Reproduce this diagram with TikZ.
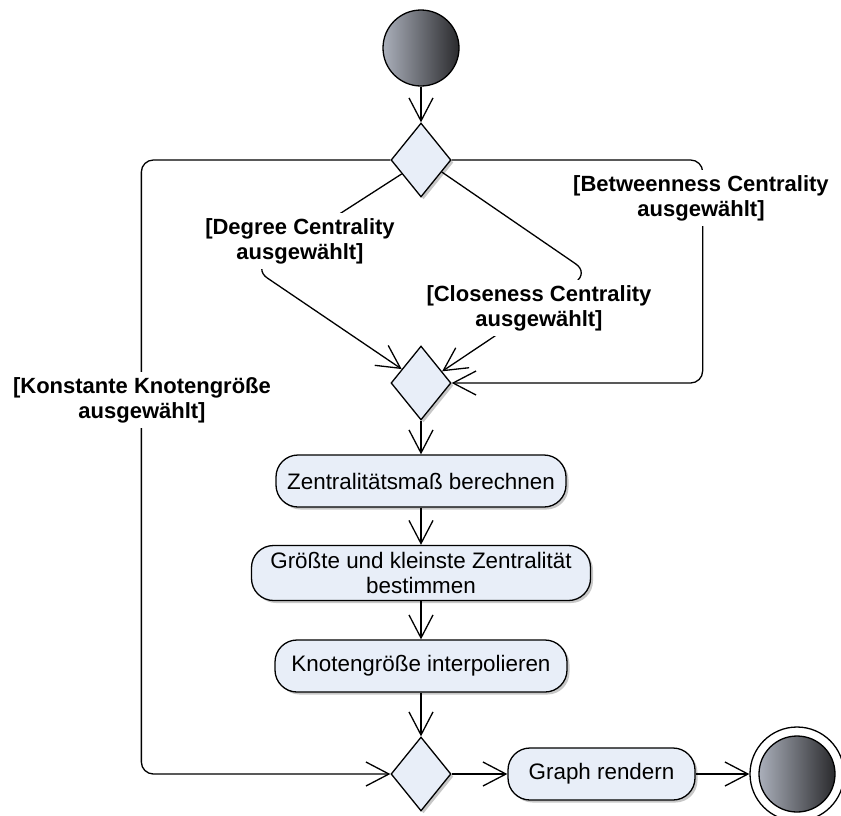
\documentclass[tikz,border=0pt]{standalone}
\usepackage{fontspec}
\setmainfont{Liberation Sans}
\usetikzlibrary{arrows.meta,shapes.geometric,shadows,calc}

\definecolor{nodefill}{RGB}{232,238,248}
\definecolor{balllight}{RGB}{170,175,186}
\definecolor{balldark}{RGB}{42,42,45}

\tikzset{
  softshadow/.style={drop shadow={shadow xshift=2.5pt, shadow yshift=-2.5pt, opacity=0.22, fill=black}},
  flow/.style={line width=1.3pt, -{Straight Barb[length=23pt,width=24pt]}},
  decision/.style={diamond, draw, line width=1.3pt, fill=nodefill, softshadow,
    minimum width=60pt, minimum height=74pt, inner sep=0pt},
  activity/.style={rectangle, rounded corners=22pt, draw, line width=1.3pt, fill=nodefill, softshadow,
    align=center, font=\fontsize{22.4}{25.5}\selectfont, inner sep=0pt, minimum height=52pt},
  guard/.style={fill=white, align=center, font=\bfseries\fontsize{22}{25}\selectfont, inner sep=5pt},
  ball/.style={circle, draw, line width=1.3pt, inner sep=0pt, left color=balllight, right color=balldark}
}

\begin{document}
\begin{tikzpicture}[x=1pt, y=-1pt]
  \useasboundingbox (0,0) rectangle (841,815);

  % activity nodes
  \node[ball, minimum size=76pt] (start) at (421,48) {};
  \node[decision] (d1) at (421,160) {};
  \node[decision] (d2) at (421,383) {};
  \node[activity, minimum width=290pt] (a1) at (421,481) {Zentralitätsmaß berechnen};
  \node[activity, minimum width=339pt, minimum height=55pt] (a2) at (421,573)
    {Größte und kleinste Zentralität\\bestimmen};
  \node[activity, minimum width=292pt] (a3) at (421,666) {Knotengröße interpolieren};
  \node[decision] (d3) at (421,774) {};
  \node[activity, minimum width=187pt] (a4) at (601.5,774) {Graph rendern};
  \node[circle, draw, line width=1.3pt, fill=white, minimum size=94pt, inner sep=0pt] (endring) at (797,774) {};
  \node[ball, minimum size=76pt] (endball) at (endring) {};

  % straight flow
  \draw[flow] (start) -- (d1);
  \draw[flow] (d2) -- (a1);
  \draw[flow] (a1) -- (a2);
  \draw[flow] (a2) -- (a3);
  \draw[flow] (a3) -- (d3);
  \draw[flow] (d3) -- (a4);
  \draw[flow] (a4) -- (endring);

  % branches of the first decision
  \draw[flow, rounded corners=12pt] (d1.west) -- ++(-249,0) |- (d3.west);
  \draw[flow, rounded corners=12pt] (d1.east) -- ++(251,0) |- (d2.east);
  \coordinate (bendL) at (254,269);
  \coordinate (bendR) at (589,273);
  \draw[flow, rounded corners=16pt] ($(d1.west)!0.37!(d1.south)$) -- (bendL) -- ($(d2.west)!0.37!(d2.north)$);
  \draw[flow, rounded corners=16pt] ($(d1.east)!0.32!(d1.south)$) -- (bendR) -- ($(d2.east)!0.31!(d2.north)$);

  % guard labels
  \node[guard] (gK) at (142,400) {[Konstante Knotengröße\\ausgewählt]};
  \node[guard] (gB) at (701,198) {[Betweenness Centrality\\ausgewählt]};
  \node[guard] (gD) at (300,241) {[Degree Centrality\\ausgewählt]};
  \node[guard] (gC) at (539,308) {[Closeness Centrality\\ausgewählt]};
\end{tikzpicture}
\end{document}
